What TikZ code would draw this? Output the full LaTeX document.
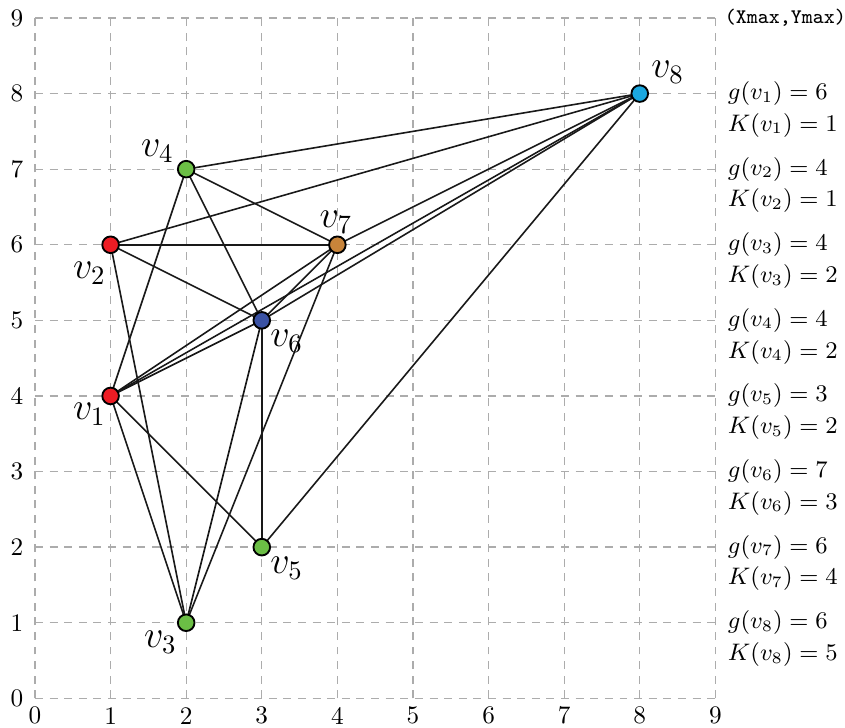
\documentclass[tikz,border=0pt]{standalone}
\begin{document}
\begin{tikzpicture}[x=1cm,y=1cm,
  vtx/.style={circle,draw=black,line width=0.7pt,minimum size=0.22cm,inner sep=0pt},
  edge/.style={draw=black!90,line width=0.6pt},
  vlab/.style={font=\Large},
  info/.style={anchor=west,font=\fontsize{8.7}{10}\selectfont,inner sep=0pt}]
\definecolor{cred}{RGB}{237,28,36}
\definecolor{cgreen}{RGB}{107,190,69}
\definecolor{cblue}{RGB}{58,82,164}
\definecolor{cbrown}{RGB}{200,132,58}
\definecolor{ccyan}{RGB}{27,168,224}
\useasboundingbox (-0.463,-0.383) rectangle (10.715,9.238);
\draw[gray!65,dash pattern=on 3pt off 2.5pt,line width=0.5pt] (0,0) grid (9,9);
\foreach \i in {0,...,9} {
  \node[font=\fontsize{9.5}{11}\selectfont,inner sep=1pt] (xt\i) at (\i,-0.23) {\i};
  \node[font=\fontsize{9.5}{11}\selectfont,inner sep=1pt] (yt\i) at (-0.24,\i) {\i};
}
\node[anchor=west,font=\ttfamily\fontsize{7.8}{9}\selectfont,inner sep=0pt] (corner) at (9.12,9) {(Xmax,Ymax)};
\coordinate (p1) at (1,4);
\coordinate (p2) at (1,6);
\coordinate (p3) at (2,1);
\coordinate (p4) at (2,7);
\coordinate (p5) at (3,2);
\coordinate (p6) at (3,5);
\coordinate (p7) at (4,6);
\coordinate (p8) at (8,8);
\foreach \a/\b in {1/4,1/3,1/5,1/7,1/8,1/6,2/8,2/7,2/6,2/3,3/6,3/7,4/8,4/7,4/6,5/6,5/8,6/7,6/8,7/8}
  \draw[edge] (p\a) -- (p\b);
\node[vtx,fill=cred] (v1) at (p1) {};
\node[vtx,fill=cred] (v2) at (p2) {};
\node[vtx,fill=cgreen] (v3) at (p3) {};
\node[vtx,fill=cgreen] (v4) at (p4) {};
\node[vtx,fill=cgreen] (v5) at (p5) {};
\node[vtx,fill=cblue] (v6) at (p6) {};
\node[vtx,fill=cbrown] (v7) at (p7) {};
\node[vtx,fill=ccyan] (v8) at (p8) {};
\node[vlab] (l1) at (0.72,3.76) {$v_1$};
\node[vlab] (l2) at (0.72,5.62) {$v_2$};
\node[vlab] (l3) at (1.66,0.74) {$v_3$};
\node[vlab] (l4) at (1.62,7.24) {$v_4$};
\node[vlab] (l5) at (3.33,1.72) {$v_5$};
\node[vlab] (l6) at (3.33,4.72) {$v_6$};
\node[vlab] (l7) at (3.98,6.3) {$v_7$};
\node[vlab] (l8) at (8.37,8.28) {$v_8$};
\foreach \k/\g/\c in {1/6/1,2/4/1,3/4/2,4/4/2,5/3/2,6/7/3,7/6/4,8/6/5} {
  \node[info] (g\k) at (9.16,9-\k) {$g(v_{\k})=\g$};
  \node[info] (k\k) at (9.16,8.58-\k) {$K(v_{\k})=\c$};
}
\end{tikzpicture}
\end{document}
